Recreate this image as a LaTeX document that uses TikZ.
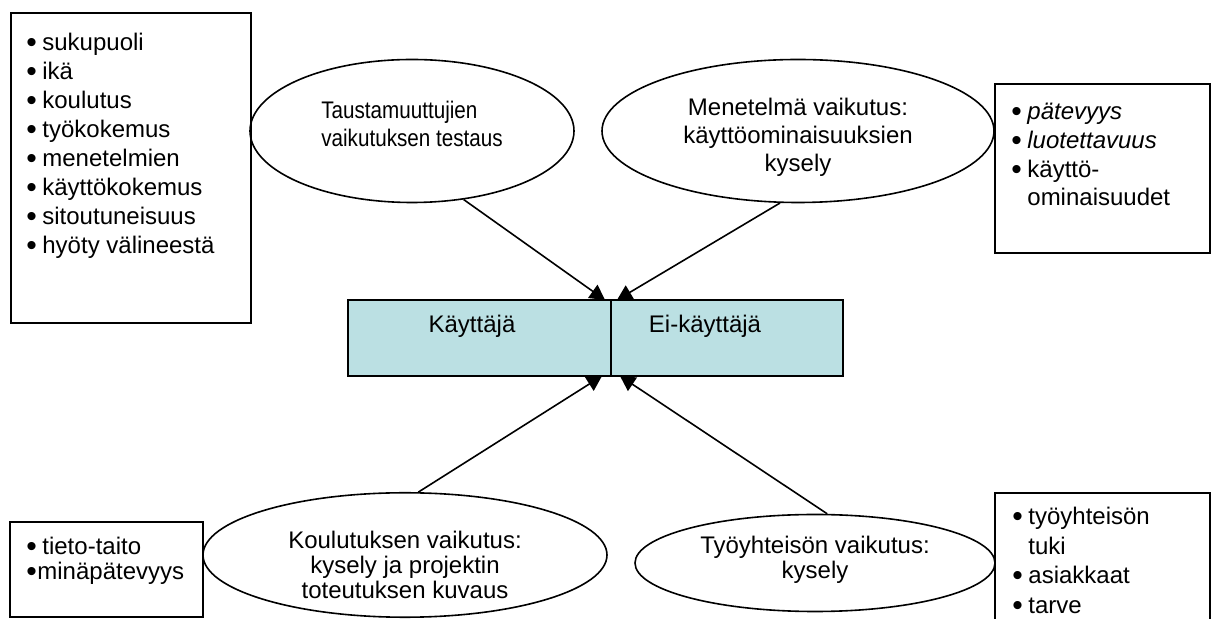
\documentclass[tikz,border=0pt]{standalone}
\usepackage{fontspec}
\setmainfont{Liberation Sans}
\newfontfamily\narrowfont[FakeStretch=0.86]{Liberation Sans}
\usetikzlibrary{shapes.geometric, arrows.meta, positioning}

\definecolor{paleblue}{RGB}{187,224,227}

\newcommand{\dotglyph}{\smash{\raisebox{-1pt}{\fontsize{15pt}{15pt}\selectfont\textbullet}}}
\newcommand{\bl}{\makebox[8pt][l]{\dotglyph}}
\newcommand{\blt}{\makebox[5.5pt][l]{\dotglyph}}
\newcommand{\bi}{\hspace*{8pt}}

\begin{document}
\begin{tikzpicture}[x=0.5pt, y=-0.5pt,
  box/.style={draw, line width=0.8pt, rectangle, inner sep=0pt},
  list/.style={anchor=north west, align=left, inner sep=0pt, font=\fontsize{12pt}{14.5pt}\selectfont},
  oval/.style={draw, ellipse, line width=0.8pt, inner sep=0pt, align=center, font=\fontsize{12pt}{14pt}\selectfont},
  half/.style={draw, line width=0.8pt, fill=paleblue, minimum height=38pt, inner sep=0pt, outer sep=0pt},
  lbl/.style={inner sep=0pt, font=\fontsize{12pt}{14pt}\selectfont},
  arr/.style={-{Triangle[length=7.5pt,width=8pt]}, line width=0.8pt}]
\useasboundingbox (0,0) rectangle (1211,619);
\clip (0,0) rectangle (1211,619);

% list boxes
\node[box, minimum width=120pt, minimum height=155pt] (taustabox) at (131,168) {};
\node[list] (taustalist) at (26,33) {\bl sukupuoli\\ \bl ikä\\ \bl koulutus\\ \bl työkokemus\\
  \bl menetelmien\\ \bl käyttökokemus\\ \bl sitoutuneisuus\\ \bl hyöty välineestä};

\node[box, minimum width=107.5pt, minimum height=84.5pt] (menbox) at (1102.5,168.5) {};
\node[list, font=\fontsize{12pt}{14.3pt}\selectfont] (menlist) at (1011,103) {\bl \textit{pätevyys}\\ \bl \textit{luotettavuus}\\
  \bl käyttö-\\ \bi ominaisuudet};

\node[box, minimum width=96.5pt, minimum height=47.5pt] (koulbox) at (106.5,569.5) {};
\node[list, font=\fontsize{12pt}{12.5pt}\selectfont] (koullist) at (26,537) {\bl tieto-taito\\ \blt minäpätevyys};

\node[box, minimum width=107.5pt, minimum height=73.5pt] (tyobox) at (1102.5,566.5) {};
\node[list, font=\fontsize{12pt}{14.75pt}\selectfont] (tyolist) at (1012,507) {\bl työyhteisön\\ \bi tuki\\
  \bl asiakkaat\\ \bl tarve};

% ovals
\node[oval, align=left, font=\narrowfont\fontsize{12pt}{14pt}\selectfont, text depth=7pt,
  minimum width=162pt, minimum height=71.5pt] (tausta) at (412,131)
  {Taustamuuttujien\\ vaikutuksen testaus};
\node[oval, text height=43.5pt, text depth=2.5pt, minimum width=196pt, minimum height=71.5pt] (menetelma) at (798,131)
  {Menetelmä vaikutus:\\ käyttöominaisuuksien\\ kysely};
\node[oval, font=\fontsize{12pt}{12.5pt}\selectfont, text height=44pt, text depth=0pt,
  minimum width=202pt, minimum height=62pt] (koulutus) at (405,555)
  {Koulutuksen vaikutus:\\ kysely ja projektin\\ toteutuksen kuvaus};
\node[oval, font=\fontsize{12pt}{12.5pt}\selectfont, text depth=5.5pt,
  minimum width=180pt, minimum height=48.5pt] (tyoyhteiso) at (815,563)
  {Työyhteisön vaikutus:\\ kysely};

% user / non-user
\node[half, minimum width=131.5pt] (kayttaja) at (479.5,338) {};
\node[half, minimum width=116pt, anchor=west] (eikayttaja) at (kayttaja.east) {};
\node[lbl] (kayttajatxt) at (472,326) {Käyttäjä};
\node[lbl] (eikayttajatxt) at (705,326) {Ei-käyttäjä};

\draw[arr] (tausta.-53) -- ([xshift=-3pt]kayttaja.north east);
\draw[arr] (menetelma.-104) -- ([xshift=3pt]eikayttaja.north west);
\draw[arr] (koulutus.78) -- ([xshift=-4.5pt]kayttaja.south east);
\draw[arr] (tyoyhteiso.76) -- ([xshift=4.5pt]eikayttaja.south west);
\end{tikzpicture}
\end{document}
